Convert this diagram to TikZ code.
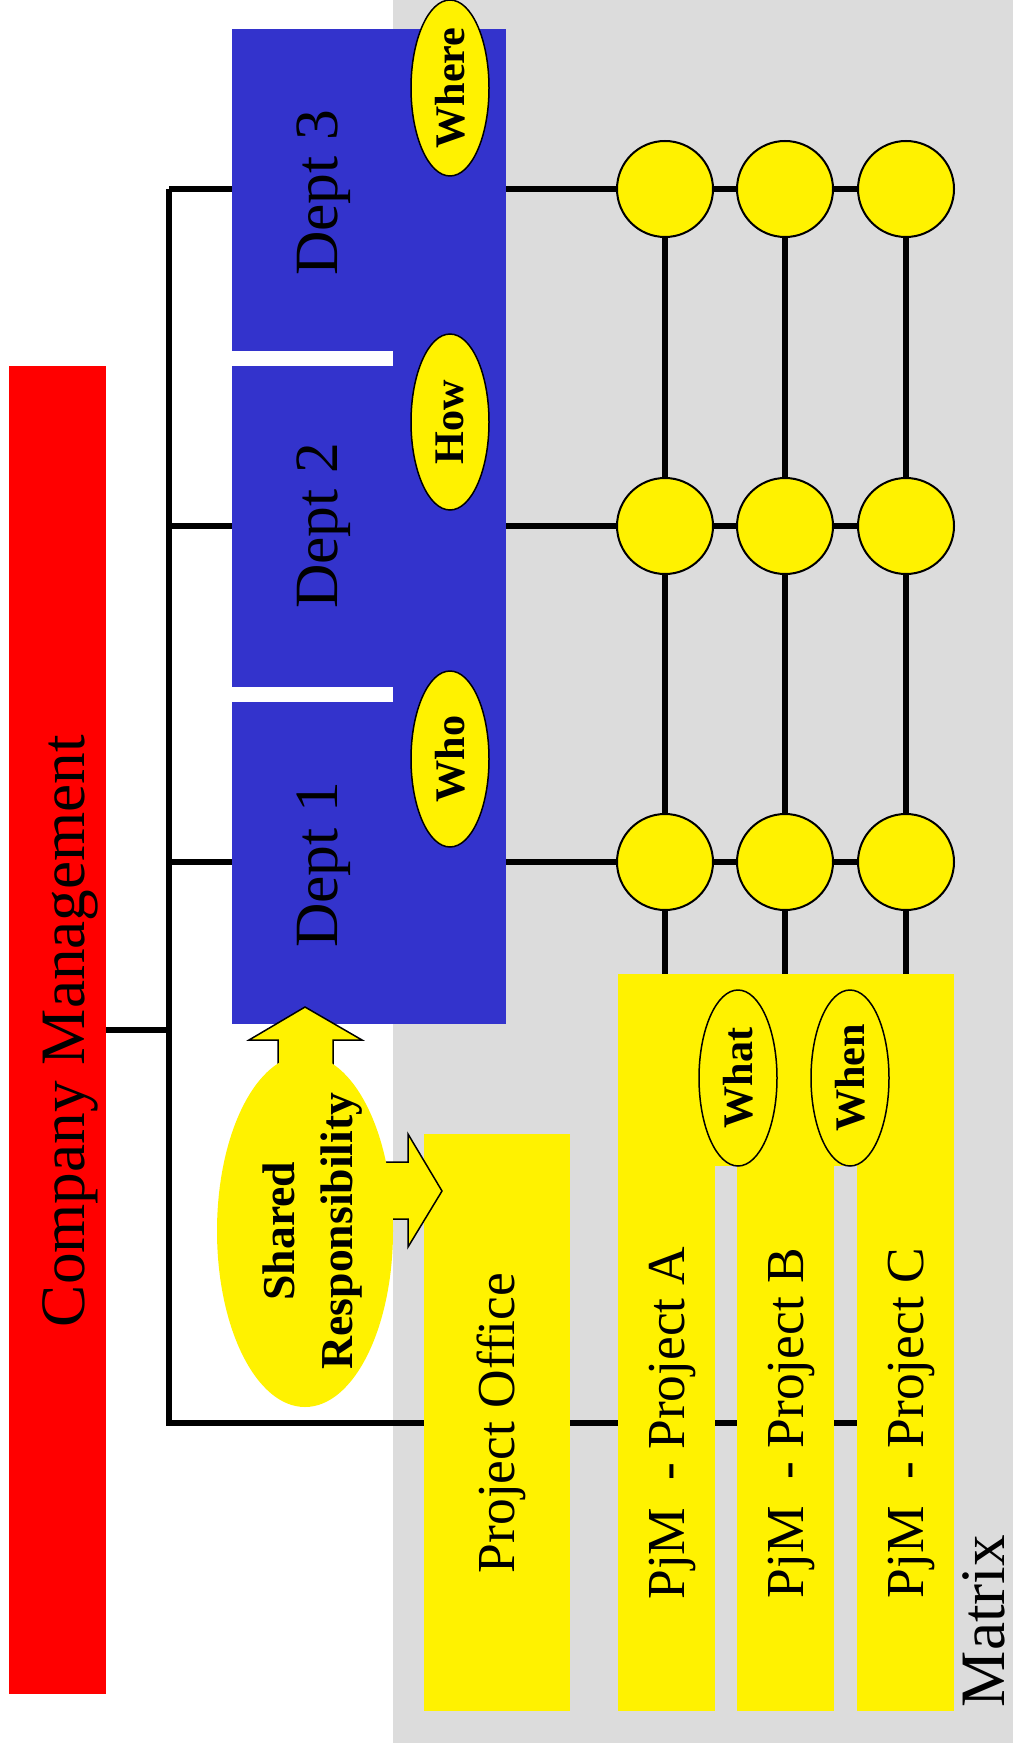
\documentclass[tikz,border=0pt]{standalone}
\usepackage{fontspec}
\setmainfont{Liberation Serif}
\usetikzlibrary{shapes.geometric}

\pgfdeclarelayer{back}
\pgfdeclarelayer{wires}
\pgfsetlayers{back,wires,main}

\definecolor{deptblue}{RGB}{51,51,204}
\definecolor{matrixgray}{RGB}{220,220,220}

\tikzset{
  box/.style={draw=none, inner sep=0, outer sep=0},
  wire/.style={line width=0.6mm},
  dot/.style={circle, draw, line width=0.2mm, fill=yellow, minimum size=9.6mm, inner sep=0},
  tag/.style={ellipse, draw, line width=0.15mm, fill=yellow, rotate=90, minimum width=17.6mm,
    minimum height=7.8mm, inner sep=0, font=\bfseries\fontsize{12}{14}\selectfont},
  big/.style={rotate=90, anchor=base, inner sep=0, font=\fontsize{17.5}{20}\selectfont},
  pj/.style={rotate=90, anchor=base, inner sep=0, font=\fontsize{15.2}{18}\selectfont},
  fat/.style={draw, line width=0.15mm, fill=yellow},
}

\begin{document}
\begin{tikzpicture}[x=0.1mm, y=-0.1mm]
	\useasboundingbox (0,0) rectangle (1013,1754);
	\begin{pgfonlayer}{back}
		\fill[matrixgray] (393,0) rectangle (1013,1743);
	\end{pgfonlayer}

	% management and departments
	\node[box, fill=red, minimum width=9.7mm, minimum height=132.8mm] (mgmt) at (57.5,1030) {};
	\fill[deptblue] (393,29) rectangle (506,1024);
	\node[box, fill=deptblue, minimum width=27.4mm, minimum height=32.2mm] (d3) at (369,190) {};
	\node[box, fill=deptblue, minimum width=27.4mm, minimum height=32.1mm] (d2) at (369,526.5) {};
	\node[box, fill=deptblue, minimum width=27.4mm, minimum height=32.2mm] (d1) at (369,863) {};

	% project side
	\node[box, fill=yellow, minimum width=14.6mm, minimum height=57.7mm] (po) at (497,1422.5) {};
	\node[box, fill=yellow, minimum width=9.7mm, minimum height=73.7mm] (pa) at (666.5,1342.5) {};
	\node[box, fill=yellow, minimum width=9.7mm, minimum height=73.7mm] (pb) at (785.5,1342.5) {};
	\node[box, fill=yellow, minimum width=9.7mm, minimum height=73.7mm] (pc) at (905.5,1342.5) {};
	\fill[yellow] (pa.north west) rectangle (pc.east |- 0,1166);

	% matrix crossings
	\foreach \r/\y in {1/862,2/526,3/189}
		\foreach \c/\x in {1/665,2/785,3/906}
			\node[dot] (c\c\r) at (\x,\y) {};

	\coordinate (bt) at (169,189);
	\coordinate (bb) at (169,1423);

	\begin{pgfonlayer}{wires}
		\draw[wire] (mgmt.east) -- (mgmt.east -| bt);
		\draw[wire] (bt) -- (bb) -- (pc.west |- bb);
		\foreach \r in {1,2,3}
			\draw[wire] (bt |- c1\r) -- (c3\r);
		\foreach \c in {1,2,3}
			\draw[wire] (c\c3) -- (c\c3 |- pa.north);
	\end{pgfonlayer}

	% question tags
	\node[tag] (where) at (450,88) {Where};
	\node[tag] (how) at (450,422) {How};
	\node[tag] (who) at (450,759) {Who};
	\node[tag] (what) at (738,1078) {What};
	\node[tag] (when) at (850,1078) {When};

	% shared responsibility
	\draw[fat] (305,1007) -- (362,1040) -- (333,1040) -- (333,1075) -- (278,1075) -- (278,1040) -- (249,1040) -- cycle;
	\draw[fat] (442,1191) -- (408,1134) -- (408,1162) -- (375,1162) -- (375,1219) -- (408,1219) -- (408,1247) -- cycle;
	\node[ellipse, fill=yellow, minimum width=17.6mm, minimum height=35.2mm, inner sep=0] (shared) at (305,1231) {};
	\node[rotate=90, align=center, inner sep=0, font=\bfseries\fontsize{13}{16.5}\selectfont] (sharedtext) at (313,1231) {Shared\\Responsibility};

	% labels
	\node[big, font=\fontsize{18}{20}\selectfont] (mgmttext) at (84,1031) {Company Management};
	\node[big] (d3text) at (337,193) {Dept 3};
	\node[big] (d2text) at (337,526) {Dept 2};
	\node[big] (d1text) at (337,865) {Dept 1};
	\node[big, font=\fontsize{18}{20}\selectfont] (mtx) at (1004,1621) {Matrix};
	\node[pj] (potext) at (514.5,1423) {Project Office};
	\node[pj] (patext) at (684,1423) {PjM\ \ - Project A};
	\node[pj] (pbtext) at (803,1423) {PjM\ \ - Project B};
	\node[pj] (pctext) at (923,1423) {PjM\ \ - Project C};
\end{tikzpicture}
\end{document}
